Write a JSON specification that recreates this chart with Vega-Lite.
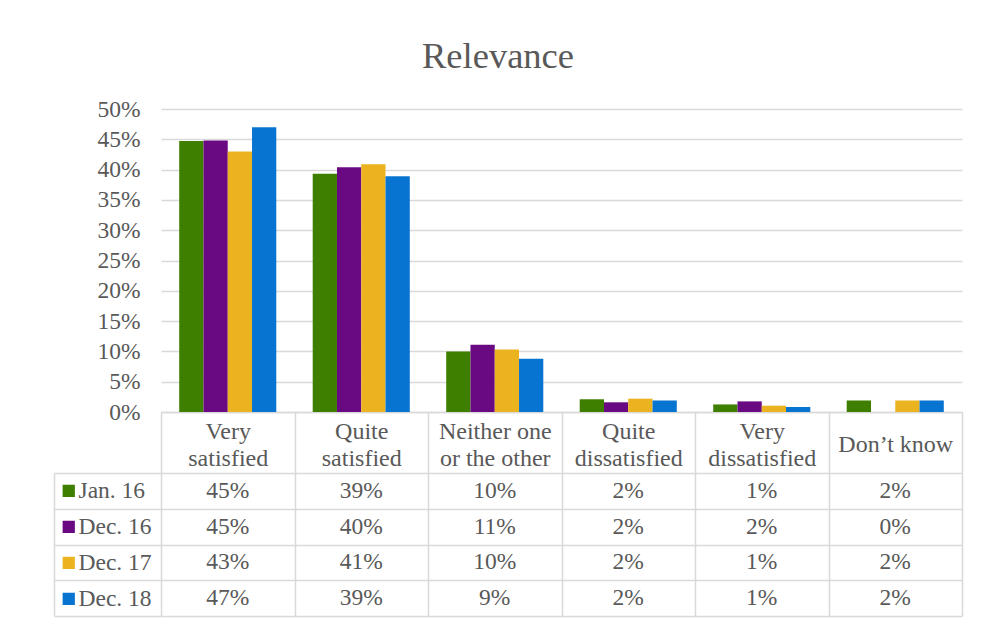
{
  "$schema": "https://vega.github.io/schema/vega-lite/v6.json",
  "padding": {"left": 53, "top": 39, "right": 5, "bottom": 5},
  "title": {
    "text": "Relevance",
    "font": "Liberation Serif",
    "fontSize": 36.5,
    "fontWeight": "normal",
    "color": "#595959",
    "anchor": "middle",
    "dx": -10,
    "offset": 21.5
  },
  "data": {
    "values": [
      {"category": "Very satisfied", "period": "Jan. 16", "value": 0.447},
      {"category": "Very satisfied", "period": "Dec. 16", "value": 0.448},
      {"category": "Very satisfied", "period": "Dec. 17", "value": 0.430},
      {"category": "Very satisfied", "period": "Dec. 18", "value": 0.470},
      {"category": "Quite satisfied", "period": "Jan. 16", "value": 0.393},
      {"category": "Quite satisfied", "period": "Dec. 16", "value": 0.404},
      {"category": "Quite satisfied", "period": "Dec. 17", "value": 0.409},
      {"category": "Quite satisfied", "period": "Dec. 18", "value": 0.389},
      {"category": "Neither one or the other", "period": "Jan. 16", "value": 0.100},
      {"category": "Neither one or the other", "period": "Dec. 16", "value": 0.111},
      {"category": "Neither one or the other", "period": "Dec. 17", "value": 0.103},
      {"category": "Neither one or the other", "period": "Dec. 18", "value": 0.088},
      {"category": "Quite dissatisfied", "period": "Jan. 16", "value": 0.021},
      {"category": "Quite dissatisfied", "period": "Dec. 16", "value": 0.016},
      {"category": "Quite dissatisfied", "period": "Dec. 17", "value": 0.022},
      {"category": "Quite dissatisfied", "period": "Dec. 18", "value": 0.019},
      {"category": "Very dissatisfied", "period": "Jan. 16", "value": 0.0125},
      {"category": "Very dissatisfied", "period": "Dec. 16", "value": 0.0175},
      {"category": "Very dissatisfied", "period": "Dec. 17", "value": 0.0104},
      {"category": "Very dissatisfied", "period": "Dec. 18", "value": 0.0083},
      {"category": "Don’t know", "period": "Jan. 16", "value": 0.019},
      {"category": "Don’t know", "period": "Dec. 16", "value": 0},
      {"category": "Don’t know", "period": "Dec. 17", "value": 0.019},
      {"category": "Don’t know", "period": "Dec. 18", "value": 0.019}
    ]
  },
  "bounds": "flush",
  "spacing": 61,
  "vconcat": [
    {
      "width": 801,
      "height": 303,
      "mark": {"type": "bar"},
      "encoding": {
        "x": {
          "field": "category",
          "type": "nominal",
          "sort": ["Very satisfied", "Quite satisfied", "Neither one or the other", "Quite dissatisfied", "Very dissatisfied", "Don’t know"],
          "scale": {"paddingInner": 0, "paddingOuter": 0},
          "axis": {
            "title": null,
            "orient": "bottom",
            "grid": false,
            "labelAngle": 0,
            "labelOverlap": false,
            "labelFont": "Liberation Serif",
            "labelFontSize": 24,
            "labelColor": "#595959",
            "labelBaseline": "middle",
            "labelLineHeight": 27,
            "labelPadding": {"condition": {"test": "indexof(datum.label, 'know') >= 0", "value": -28.5}, "value": -42}, 
            "labelExpr": "datum.label == 'Neither one or the other' ? ['Neither one', 'or the other'] : indexof(datum.label, 'know') >= 0 ? datum.label : split(datum.label, ' ')",
            "domain": true,
            "domainColor": "#d9d9d9",
            "domainWidth": 1.5,
            "ticks": true,
            "tickBand": "extent",
            "tickSize": 61,
            "tickColor": "#d9d9d9",
            "tickWidth": 1.5,
            "minExtent": 61,
            "maxExtent": 61
          }
        },
        "xOffset": {
          "field": "period",
          "type": "nominal",
          "sort": ["Jan. 16", "Dec. 16", "Dec. 17", "Dec. 18"],
          "scale": {"paddingInner": 0, "paddingOuter": 0.75}
        },
        "y": {
          "field": "value",
          "type": "quantitative",
          "scale": {"domain": [0, 0.5], "nice": false},
          "axis": {
            "title": null,
            "values": [0, 0.05, 0.1, 0.15, 0.2, 0.25, 0.3, 0.35, 0.4, 0.45, 0.5],
            "format": ".0%",
            "domain": false,
            "ticks": false,
            "labelFont": "Liberation Serif",
            "labelFontSize": 23.5,
            "labelColor": "#595959",
            "labelPadding": 21,
            "gridColor": "#d9d9d9",
            "gridWidth": 1.5
          }
        },
        "color": {
          "field": "period",
          "type": "nominal",
          "scale": {
            "domain": ["Jan. 16", "Dec. 16", "Dec. 17", "Dec. 18"],
            "range": ["#3e7f00", "#6a0a83", "#ecb321", "#0874d1"]
          },
          "legend": {
            "title": null,
            "orient": "none",
            "legendX": -104,
            "legendY": 364,
            "padding": 0,
            "symbolType": "square",
            "symbolSize": 150,
            "symbolStrokeWidth": 0,
            "symbolOpacity": 1,
            "labelFont": "Liberation Serif",
            "labelFontSize": 23.5,
            "labelColor": "#595959",
            "labelOffset": -2,
            "rowPadding": 0,
            "clipHeight": 35.75
          }
        }
      }
    },
    {
      "width": 801,
      "height": 143,
      "mark": {
        "type": "text",
        "font": "Liberation Serif",
        "fontSize": 23.5,
        "color": "#595959",
        "baseline": "middle",
        "align": "center"
      },
      "encoding": {
        "x": {
          "field": "category",
          "type": "nominal",
          "sort": ["Very satisfied", "Quite satisfied", "Neither one or the other", "Quite dissatisfied", "Very dissatisfied", "Don’t know"],
          "scale": {"paddingInner": 0, "paddingOuter": 0},
          "axis": {
            "title": null,
            "orient": "bottom",
            "labels": false,
            "ticks": false,
            "domain": false,
            "grid": true,
            "tickBand": "extent",
            "gridColor": "#d9d9d9",
            "gridWidth": 1.5
          }
        },
        "y": {
          "field": "period",
          "type": "nominal",
          "sort": ["Jan. 16", "Dec. 16", "Dec. 17", "Dec. 18"],
          "scale": {"paddingInner": 0, "paddingOuter": 0},
          "axis": {
            "title": null,
            "orient": "left",
            "offset": 107,
            "labels": false,
            "domain": true,
            "domainColor": "#d9d9d9",
            "domainWidth": 1.5,
            "ticks": true,
            "tickBand": "extent",
            "tickSize": -107,
            "tickColor": "#d9d9d9",
            "tickWidth": 1.5,
            "grid": true,
            "gridColor": "#d9d9d9",
            "gridWidth": 1.5
          }
        },
        "text": {"field": "value", "type": "quantitative", "format": ".0%"}
      }
    }
  ],
  "resolve": {"scale": {"color": "independent"}},
  "config": {
    "view": {"stroke": null},
    "font": "Liberation Serif"
  }
}
